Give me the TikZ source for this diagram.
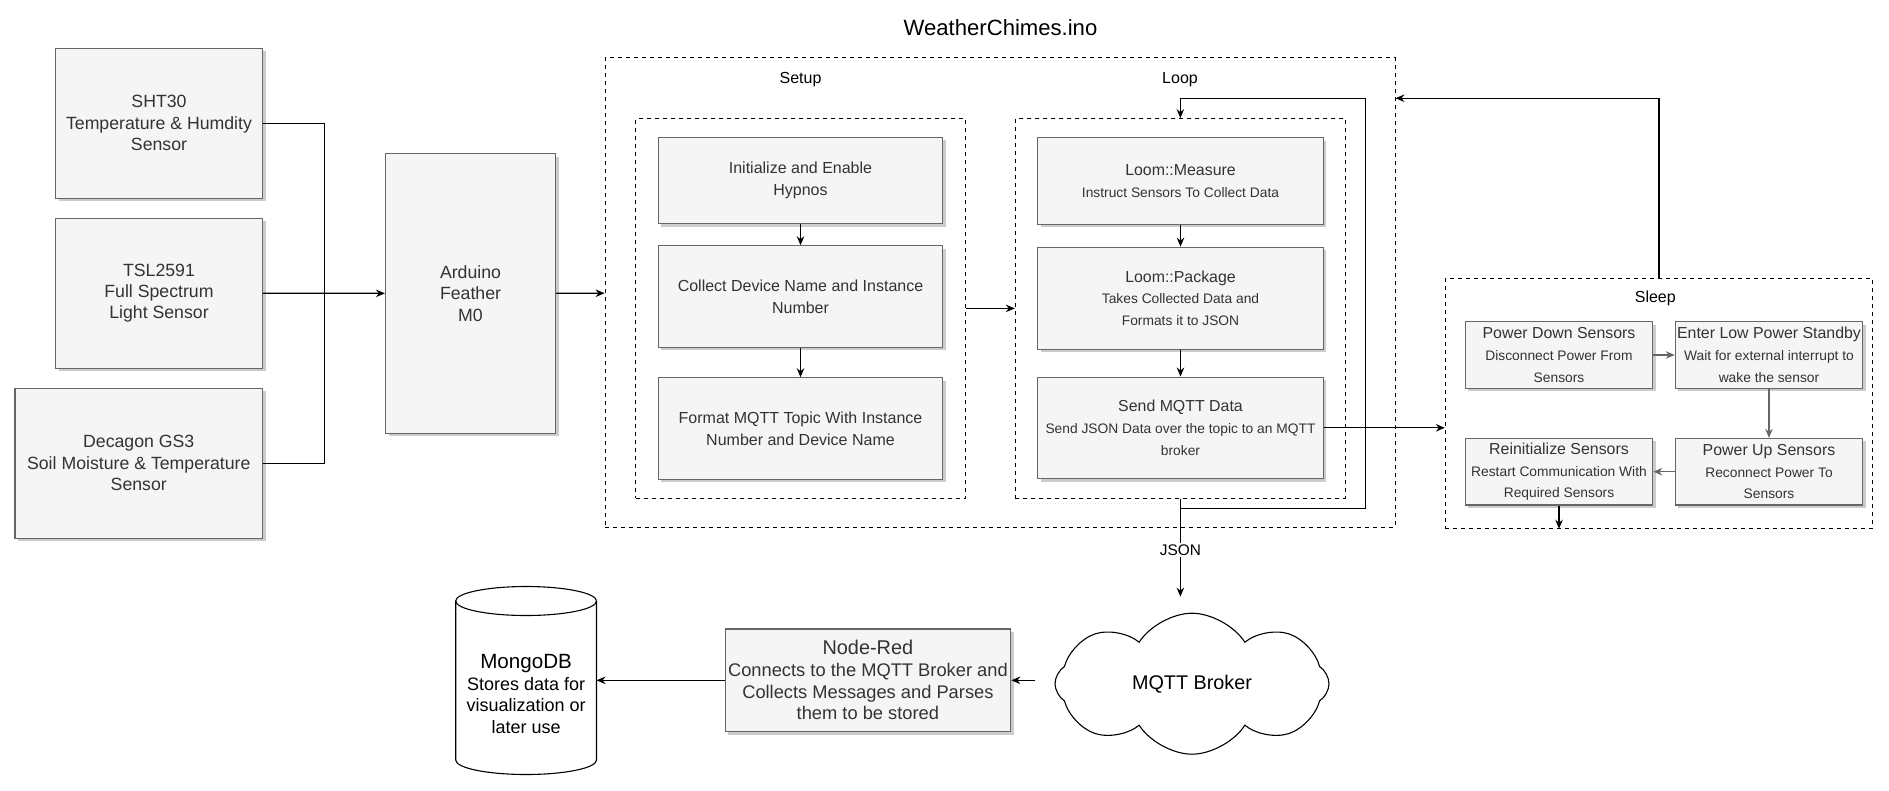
\documentclass[tikz,border=0pt]{standalone}
\usepackage{fontspec}
\setmainfont{Liberation Sans}
\usetikzlibrary{arrows.meta, shapes.symbols, shadows}
\definecolor{boxfill}{HTML}{F5F5F5}
\definecolor{boxline}{HTML}{666666}
\definecolor{boxtext}{HTML}{333333}
\tikzset{>={Stealth[length=9pt,width=7.5pt]}}
\tikzset{
  blk/.style={draw=boxline, fill=boxfill, text=boxtext, align=center, line width=1.1pt, inner sep=0pt,
    drop shadow={shadow xshift=3pt, shadow yshift=-3pt, fill=black, opacity=0.2}},
  grp/.style={draw, line width=0.9pt, dash pattern=on 4pt off 4pt},
  wire/.style={line width=1.2pt},
  bigtxt/.style={font={\fontsize{17.7pt}{21.4pt}\selectfont}},
  midtxt/.style={font={\fontsize{16pt}{22pt}\selectfont}},
  smalltxt/.style={font={\fontsize{13.8pt}{21.7pt}\selectfont}}
}
\newcommand{\head}[1]{{\fontsize{15.9pt}{21pt}\selectfont #1}}

\begin{document}
\begin{tikzpicture}[x=1pt, y=-1pt]
    \useasboundingbox (0,0) rectangle (1889,790);
    \node (sht) at (159,123.2) [blk, bigtxt, minimum width=207pt, minimum height=150pt] {SHT30\\Temperature \& Humdity\\Sensor};
    \node (tsl) at (159,293.2) [blk, bigtxt, minimum width=207pt, minimum height=150pt] {TSL2591\\Full Spectrum\\Light Sensor};
    \node (deca) at (138.75,463.2) [blk, bigtxt, minimum width=247.5pt, minimum height=150pt] {Decagon GS3\\Soil Moisture \& Temperature\\Sensor};
    \node (ard) at (470.5,293.4) [blk, bigtxt, minimum width=170pt, minimum height=279.6pt] {Arduino\\Feather\\M0};
    \coordinate (bus) at (324.2,293.3);
    \draw [wire] (sht) -| (bus);
    \draw [wire] (deca) -| (bus);
    \draw [wire, ->] (tsl) -- (ard);

    \node (title) at (1000.5,27.9) [font={\fontsize{22.1pt}{26pt}\selectfont}] {WeatherChimes.ino};
    \node (main) at (1000,292.65) [grp, minimum width=789.9pt, minimum height=469.5pt] {};
    \draw [wire, ->] (ard) -- (main);
    \node (setuplbl) at (800.5,79.3) [midtxt] {Setup};
    \node (looplbl) at (1180,79.3) [midtxt] {Loop};
    \node (setup) at (800.5,308.4) [grp, minimum width=329.6pt, minimum height=379.6pt] {};
    \node (loop) at (1180.35,308.4) [grp, minimum width=330.1pt, minimum height=379.6pt] {};

    \node (init) at (800.5,180.5) [blk, midtxt, minimum width=284.7pt, minimum height=86.7pt] {Initialize and Enable\\Hypnos};
    \node (collect) at (800.5,296.5) [blk, midtxt, minimum width=284.7pt, minimum height=101.4pt] {Collect Device Name and Instance\\Number};
    \node (topic) at (800.5,428.5) [blk, midtxt, minimum width=284.7pt, minimum height=101.4pt] {Format MQTT Topic With Instance\\Number and Device Name};
    \draw [wire, ->] (init) -- (collect);
    \draw [wire, ->] (collect) -- (topic);

    \node (measure) at (1180.5,180.9) [blk, smalltxt, minimum width=285.7pt, minimum height=86.8pt] {\head{Loom::Measure}\\Instruct Sensors To Collect Data};
    \node (package) at (1180.5,298.2) [blk, smalltxt, minimum width=285.7pt, minimum height=102pt] {\head{Loom::Package}\\Takes Collected Data and\\Formats it to JSON};
    \node (send) at (1180.5,427.8) [blk, smalltxt, minimum width=285.7pt, minimum height=101.4pt] {\head{Send MQTT Data}\\Send JSON Data over the topic to an MQTT\\broker};
    \draw [wire, ->] (measure) -- (package);
    \draw [wire, ->] (package) -- (send);
    \draw [wire, ->] (setup) -- (loop);

    \coordinate (back) at (1365.5,98.2);
    \draw [wire, ->] (loop.south) -- ++(0,9.5) -| (back) -| (loop.north);

    \node (sleep) at (1659,403.3) [grp, minimum width=427.4pt, minimum height=250pt] {};
    \node (sleeplbl) at (1655.3,298.3) [midtxt] {Sleep};
    \node (pdown) at (1559,355) [blk, smalltxt, minimum width=187.4pt, minimum height=66.6pt] {\head{Power Down Sensors}\\Disconnect Power From\\Sensors};
    \node (standby) at (1769,355) [blk, smalltxt, minimum width=187.4pt, minimum height=66.6pt] {\head{Enter Low Power Standby}\\Wait for external interrupt to\\wake the sensor};
    \node (pup) at (1769,471.7) [blk, smalltxt, minimum width=187.4pt, minimum height=66.6pt] {\head{Power Up Sensors}\\Reconnect Power To\\Sensors};
    \node (reinit) at (1559,471.7) [blk, smalltxt, minimum width=187.4pt, minimum height=66.6pt] {\head{Reinitialize Sensors}\\Restart Communication With\\Required Sensors};
    \draw [wire, ->, boxline] (pdown) -- (standby);
    \draw [wire, ->, boxline] (standby) -- (pup);
    \draw [wire, ->, boxline] (pup) -- (reinit);
    \draw [wire, ->] (reinit) -- (reinit |- sleep.south);
    \draw [wire, ->] (send) -- (send -| sleep.west);
    \draw [wire, ->] (sleep.north) |- (main.east |- back);

    \node (broker) at (1192,683.7) [cloud, draw, line width=1.1pt, cloud puffs=8, cloud puff arc=115, aspect=1.9, minimum width=274pt, minimum height=141pt, font={\fontsize{19.8pt}{24pt}\selectfont}] {MQTT Broker};
    \draw [wire, ->, shorten >=16pt] (loop.south) -- node[pos=0.45, fill=white, inner sep=2pt, font={\fontsize{15.4pt}{18pt}\selectfont}] (json) {JSON} (loop.south |- broker.north);

    \node (nodered) at (867.9,680.3) [blk, minimum width=285.7pt, minimum height=102.7pt, font={\fontsize{18.3pt}{21.7pt}\selectfont}] {{\fontsize{19.9pt}{22pt}\selectfont Node-Red}\\Connects to the MQTT Broker and\\Collects Messages and Parses\\them to be stored};
    \draw [wire, ->, shorten <=19pt] (broker.west |- nodered.east) -- (nodered.east);

    \draw [line width=1.1pt] (455.7,601) -- (455.7,760) arc [start angle=180, end angle=360, x radius=70.4pt, y radius=14.5pt] -- (596.5,601);
    \draw [line width=1.1pt] (526.1,601) ellipse [x radius=70.4pt, y radius=14.5pt];
    \node (mongo) at (526.1,694) [align=center, font={\fontsize{18pt}{21.7pt}\selectfont}] {{\fontsize{20.6pt}{22pt}\selectfont MongoDB}\\Stores data for\\visualization or\\later use};
    \coordinate (dbside) at (596.5,680.3);
    \draw [wire, ->] (nodered) -- (dbside);
\end{tikzpicture}
\end{document}
